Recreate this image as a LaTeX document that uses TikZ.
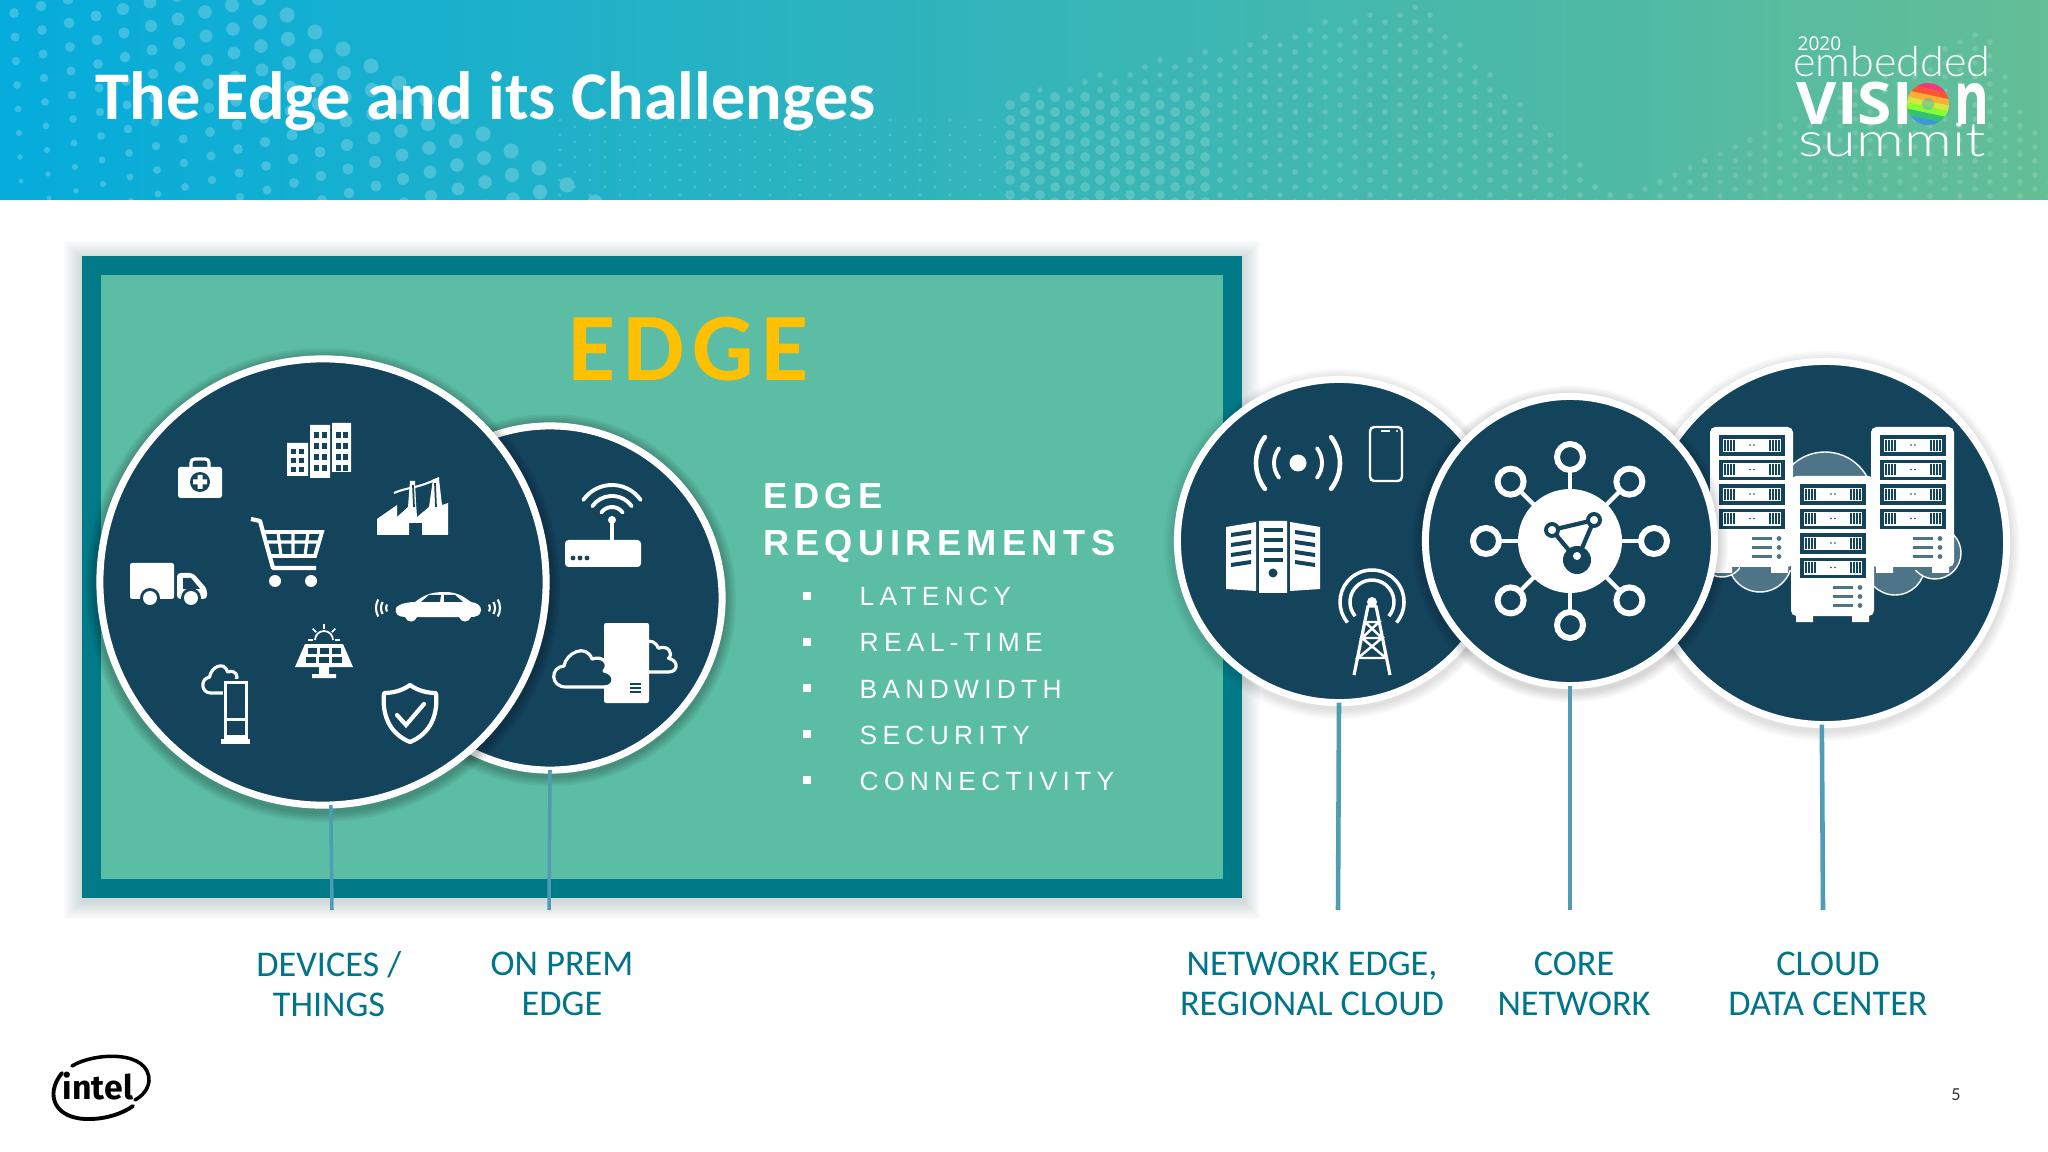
\documentclass[tikz,border=0pt]{standalone}
\usepackage{fontspec}
\usepackage{xcolor}
\usepackage{tikz}
\usetikzlibrary{arrows.meta,positioning,shapes.geometric,calc}
\setmainfont{Carlito}
\newfontfamily\spacedfont[LetterSpace=20]{Liberation Sans}
\newfontfamily\spacedhead[LetterSpace=15]{Liberation Sans}
\newfontfamily\amberfont[LetterSpace=8,BoldFont={Carlito Bold}]{Carlito}
\newfontfamily\logofont{Open Sans}
\newfontfamily\intelfont{Fira Sans}
\newfontfamily\summitthin{Lato Light}
\definecolor{hubdark}{RGB}{20,67,92}
\definecolor{boxgreen}{RGB}{92,189,165}
\definecolor{boxteal}{RGB}{0,122,135}
\definecolor{labelteal}{RGB}{0,117,138}
\definecolor{stemblue}{RGB}{78,157,181}
\definecolor{edgeamber}{RGB}{255,192,0}
\definecolor{cloudslate}{RGB}{78,116,136}
\definecolor{headleft}{RGB}{5,172,220}
\definecolor{headmid}{RGB}{33,183,196}
\definecolor{headright}{RGB}{100,190,150}
\tikzset{
  hub/.style={circle,draw=white,fill=hubdark,line width=2pt,inner sep=0pt,outer sep=0pt},
  stem/.style={stemblue,line width=1.3pt},
  tier/.style={labelteal,align=center,font=\fontsize{10.3}{11.4}\selectfont},
  reqhead/.style={white,anchor=base west,inner sep=0pt,font=\fontsize{10.3}{12}\spacedhead\bfseries},
  reqitem/.style={white,anchor=base west,inner sep=0pt,font=\fontsize{7.5}{9}\spacedfont},
  reqmark/.style={fill=white,inner sep=0pt,minimum size=0.08cm},
  thinline/.style={white,line width=0.9pt},
  medkit/.pic={
    \fill[white,rounded corners=0.5pt] (0,10) rectangle (44,41);
    \draw[thinline,rounded corners=1pt] (13,10) -- (13,2) -- (31,2) -- (31,10);
    \fill[hubdark] (22,25) circle[radius=10];
    \fill[white] (19.5,18) rectangle (24.5,32) (15,22.5) rectangle (29,27.5);
  },
  towers/.pic={
    \fill[white] (0,23) rectangle (21,56) (23,5) rectangle (43,58) (45,3) rectangle (64,52);
    \foreach \c in {4,12} \foreach \r in {29,38,47} \fill[hubdark] (\c,\r) rectangle ++(5,5);
    \foreach \c in {27,35,49,56} \foreach \r in {12,23,34,45} \fill[hubdark] (\c,\r) rectangle ++(5,6);
  },
  factory/.pic={
    \fill[white] (0,58) -- (0,42) -- (20,28) -- (20,40) -- (31,30) -- (33,4) -- (38,4) -- (39,26) -- (40,40) -- (52,30) -- (56,2) -- (62,2) -- (65,28) -- (71,26) -- (71,58) -- (45,58) -- (45,46) -- (32,46) -- (32,58) -- cycle;
    \draw[thinline,line width=0.6pt] (17,16) .. controls (30,10) and (40,12) .. (62,1);
    \draw[hubdark,line width=0.5pt] (37,30) -- (36,8) (59,30) -- (58,6);
  },
  cart/.pic={
    \draw[white,line width=1.2pt,line join=round] (0,1) -- (9,3) -- (22,50) -- (65,50);
    \draw[white,line width=1.1pt] (12,14) -- (71,14) -- (64,38) -- (18,38);
    \draw[white,line width=0.9pt] (17,24) -- (67,24) (27,14) -- (30,38) (42,14) -- (42,38) (57,14) -- (54,38);
    \fill[white] (24,63) circle[radius=6] (60,63) circle[radius=6];
  },
  truck/.pic={
    \fill[white,rounded corners=0.6pt] (0,0) rectangle (44,36);
    \fill[white,rounded corners=1pt] (47,10) -- (63,10) -- (77,26) -- (77,36) -- (47,36) -- cycle;
    \fill[hubdark] (53,15) -- (61,15) -- (70,26) -- (53,26) -- cycle;
    \foreach \w in {20,61} {
      \fill[hubdark] (\w,35) circle[radius=10];
      \fill[white] (\w,35) circle[radius=7];
    }
  },
  car/.pic={
    \fill[white] (21,16) .. controls (24,11) and (36,10) .. (40,10) .. controls (50,2) and (58,0) .. (70,0) .. controls (84,0) and (90,6) .. (96,10) .. controls (103,11) and (106,14) .. (106,18) .. controls (106,24) and (100,25) .. (96,25) .. controls (94,31) and (86,31) .. (84,25) -- (42,25) .. controls (40,31) and (32,31) .. (30,25) .. controls (24,25) and (19,22) .. (21,16) -- cycle;
    \fill[hubdark] (46,10) -- (54,3) -- (66,3) -- (65,10) -- cycle (69,3) -- (80,3) -- (88,10) -- (69,10) -- cycle;
    \foreach \w in {7,12,17} \draw[white,line width=0.6pt] ([shift={(150:\w)}]18,16) arc[start angle=150,end angle=210,radius=\w];
    \foreach \w in {7,12,17} \draw[white,line width=0.6pt] ([shift={(-30:\w)}]108,16) arc[start angle=-30,end angle=30,radius=\w];
  },
  solar/.pic={
    \fill[white] (10,22) -- (48,22) -- (58,45) -- (0,45) -- cycle (24,45) rectangle (34,52) (17,52) rectangle (41,56);
    \foreach \c in {0,1,2} {
      \fill[hubdark] (13+\c*12,26) rectangle ++(9,6);
      \fill[hubdark] (11+\c*13,35) rectangle ++(10,6);
    }
    \draw[thinline,line width=0.5pt] ([shift={(180:9)}]29,18) arc[start angle=180,end angle=360,radius=9];
    \foreach \a in {180,225,270,315,360} \draw[thinline,line width=0.5pt] ([shift={(\a:11)}]29,18) -- ([shift={(\a:16)}]29,18);
  },
  cloudline/.pic={
    \draw[white,fill=hubdark,line width=0.9pt,line join=round] (12,40) .. controls (-4,40) and (-4,20) .. (10,19) .. controls (12,6) and (32,-4) .. (38,12) .. controls (50,8) and (56,18) .. (50,24) .. controls (62,26) and (62,40) .. (50,40) -- cycle;
  },
  kiosk/.pic={
    \pic[xscale=0.65,yscale=0.75] at (0,0) {cloudline};
    \fill[hubdark] (20,16) rectangle (46,78);
    \fill[white] (21,18) rectangle (45,76);
    \fill[hubdark] (24,21) rectangle (42,55);
    \fill[hubdark] (24,58) rectangle (42,72);
    \fill[white] (18,76) rectangle (47,81);
  },
  shield/.pic={
    \draw[white,line width=1.2pt,line join=round] (28,2) .. controls (36,8) and (46,10) .. (54,10) .. controls (56,30) and (50,50) .. (28,59) .. controls (6,50) and (0,30) .. (2,10) .. controls (10,10) and (20,8) .. (28,2) -- cycle;
    \draw[white,line width=1.2pt,line cap=round] (15,32) -- (24,42) -- (42,21);
  },
  router/.pic={
    \fill[white,rounded corners=1pt] (0,56) rectangle (76,83);
    \foreach \d in {8,15,22} \fill[hubdark] (\d,74) circle[radius=2.4];
    \draw[white,line width=1.1pt] (47,56) -- (47,36);
    \fill[white] (47,36) circle[radius=4];
    \foreach \w in {13,24,35} \draw[white,line width=1.1pt,line cap=round] ([shift={(-35:\w)}]47,36) arc[start angle=-35,end angle=-145,radius=\w];
  },
  cloudserver/.pic={
    \pic[xscale=0.85,yscale=0.85] at (72,15) {cloudline};
    \fill[white,rounded corners=0.6pt] (50,0) rectangle (95,80);
    \pic at (0,24) {cloudline};
    \foreach \r in {60,64,68} \fill[hubdark] (76,\r) rectangle ++(11,2);
  },
  beacon/.pic={
    \fill[white] (44,28) circle[radius=8.5];
    \foreach \w/\t in {24/1.1,42/1.3} {
      \draw[white,line width=\t pt,line cap=round] ([shift={(-38:\w)}]44,28) arc[start angle=-38,end angle=38,radius=\w];
      \draw[white,line width=\t pt,line cap=round] ([shift={(142:\w)}]44,28) arc[start angle=142,end angle=218,radius=\w];
    }
  },
  handset/.pic={
    \draw[white,line width=0.7pt,rounded corners=1.2pt] (0,0) rectangle (32,54);
    \draw[white,line width=0.5pt] (11,4) -- (20,4);
    \fill[white] (27,4) circle[radius=1.2];
  },
  towers2/.pic={
    \fill[white] (0,6) -- (30,1) -- (30,70) -- (0,68) -- cycle (33,0) rectangle (61,72) (64,1) -- (94,6) -- (94,68) -- (64,70) -- cycle;
    \foreach \k in {0,1,2,3} {
      \fill[hubdark] (5,12+\k*10) -- (25,9+\k*10) -- (25,13+\k*10) -- (5,16+\k*10) -- cycle;
      \fill[hubdark] (38,7+\k*10) rectangle ++(19,4);
      \fill[hubdark] (69,9+\k*10) -- (89,12+\k*10) -- (89,16+\k*10) -- (69,13+\k*10) -- cycle;
    }
    \fill[hubdark] (47,52) circle[radius=4.5];
  },
  mast/.pic={
    \foreach \w in {22,32} \draw[white,line width=1pt] ([shift={(40:\w)}]34,32) arc[start angle=40,end angle=-220,radius=\w];
    \fill[white] (34,32) circle[radius=5];
    \draw[white,line width=0.9pt,line join=round] (16,105) -- (30,36) -- (38,36) -- (52,105);
    \draw[white,line width=0.7pt] (27,52) -- (41,52) -- (24,68) -- (44,68) -- (20,88) -- (48,88) (27,52) -- (44,68) -- (44,68) (24,68) -- (48,88);
  },
  rack/.pic={
    \fill[white,rounded corners=1.5pt] (0,0) rectangle (83,140);
    \fill[white] (5,140) rectangle (22,146) (61,140) rectangle (78,146);
    \foreach \k in {0,1,2,3} {
      \draw[hubdark,line width=1pt,fill=white] (11,10+\k*24.5) rectangle ++(62,17);
      \foreach \t in {15,18,21,24,60,63,66,69} \draw[hubdark,line width=0.3pt] (\t,13+\k*24.5) -- ++(0,11);
      \fill[hubdark] (40,18+\k*24.5) circle[radius=0.8] (44,18+\k*24.5) circle[radius=0.8];
    }
    \foreach \k in {0,1,2} {
      \fill[cloudslate] (42,110+\k*9) rectangle ++(20,3.5);
      \fill[cloudslate] (69,111.5+\k*9) circle[radius=2.4];
    }
  },
}
\begin{document}
\begin{tikzpicture}[x=0.01cm,y=-0.01cm]
  \useasboundingbox (0,0) rectangle (2048,1152);
  \fill[white] (0,0) rectangle (2048,1152);
  \begin{scope}
    \clip (0,0) rectangle (2048,200);
    \shade[left color=headleft,middle color=headmid,right color=headright] (0,0) rectangle (2048,200);
    \begin{scope}[opacity=0.22]
      \foreach \r in {-9,...,11} {
        \foreach \c in {0,...,15} {
          \pgfmathsetmacro{\dr}{2+5.5*(1-\c/15)}
          \fill[white] (287+\r*28-\c*27,15+\r*17+\c*7) circle[radius=\dr];
        }
      }
    \end{scope}
    \begin{scope}[opacity=0.17]
      \foreach \i in {0,...,70} {
        \foreach \j in {0,...,13} {
          \pgfmathsetmacro{\px}{560+\i*15}
          \pgfmathsetmacro{\py}{\j*15+7*mod(\i,2)}
          \pgfmathtruncatemacro{\keep}{\py>(\px<1000?115:(\px<1423?95-(\px-1000)*0.225:(\px-1423)))?1:0}
          \pgfmathsetmacro{\dr}{(\px>1000&&\px<1210&&\py>95)?5:(\px>1000?2.8:1.6)}
          \ifnum\keep=1
            \fill[white] (\px,\py) circle[radius=\dr];
          \fi
        }
      }
    \end{scope}
    \begin{scope}[opacity=0.14]
      \foreach \i in {0,...,30} {
        \foreach \j in {0,...,14} {
          \pgfmathsetmacro{\px}{1600+\i*15}
          \pgfmathsetmacro{\py}{\j*14+7*mod(\i,2)}
          \pgfmathtruncatemacro{\keep}{\py>(\px<1980?200-(\px-1600)*0.47:20+(\px-1980)*2)?1:0}
          \ifnum\keep=1
            \fill[white] (\px,\py) circle[radius=2.8];
          \fi
        }
      }
    \end{scope}
  \end{scope}
  \node[anchor=base west,inner sep=0pt,white,font=\fontsize{19.4}{22}\selectfont\bfseries] (title) at (95,120) {The Edge and its Challenges};

  \foreach \g in {18,16,...,2} {
    \fill[black!60!boxteal,opacity=0.018] (82-\g,256-\g+3) rectangle (1242+\g,898+\g+3);
  }
  \draw[boxteal,fill=boxgreen,line width=5.4pt] (91.5,265.5) rectangle (1232.5,888.5);
  \node[anchor=base,inner sep=0pt,edgeamber,font=\fontsize{27.5}{30}\amberfont\bfseries] (edgetitle) at (689,381) {EDGE};

  \node[reqhead] (reqa) at (763,509) {EDGE};
  \node[reqhead] (reqb) at (763,555) {REQUIREMENTS};
  \foreach \t [count=\n] in {LATENCY,REAL-TIME,BANDWIDTH,SECURITY,CONNECTIVITY} {
    \node[reqmark] (mark\n) at (807,550+\n*46) {};
    \node[reqitem] (item\n) at (859,560+\n*46) {\t};
  }

  \foreach \g in {10,8,...,2} \fill[black,opacity=0.05] (550,600) circle[radius=176+\g];
  \node[hub,minimum size=3.44cm] (onprem) at (550,598) {};
  \pic at (565,484) {router};
  \pic at (554,623) {cloudserver};

  \foreach \g in {10,8,...,2} \fill[black,opacity=0.05] (323,585) circle[radius=227+\g];
  \node[hub,minimum size=4.46cm] (devices) at (323,582) {};
  \pic at (178,457) {medkit};
  \pic at (287,420) {towers};
  \pic at (377,477) {factory};
  \pic at (251,518) {cart};
  \pic at (130,563) {truck};
  \pic at (375,592) {car};
  \pic at (295,622) {solar};
  \pic at (203,663) {kiosk};
  \pic at (382,683) {shield};

  \foreach \g in {10,8,...,2} \fill[black,opacity=0.025] (1825,546) circle[radius=185+\g];
  \node[hub,minimum size=3.63cm] (cloud) at (1825,543) {};
  \foreach \a/\b/\w in {1825/500/48,1760/560/32,1895/565/30,1935/553/26,1722/555/22} {
    \draw[white,line width=0.4pt,fill=cloudslate] (\a,\b) circle[radius=\w];
  }
  \fill[cloudslate] (1740,520) rectangle (1930,570);
  \pic at (1710,427) {rack};
  \pic at (1871,427) {rack};
  \pic at (1791,476) {rack};

  \foreach \g in {10,8,...,2} \fill[black,opacity=0.025] (1339,544) circle[radius=165+\g];
  \node[hub,minimum size=3.23cm] (network) at (1339,541) {};
  \pic at (1254,435) {beacon};
  \pic at (1370,427) {handset};
  \pic at (1226,521) {towers2};
  \pic at (1338,570) {mast};

  \foreach \g in {10,8,...,2} \fill[black,opacity=0.03] (1570,544) circle[radius=148+\g];
  \node[hub,minimum size=2.89cm] (core) at (1570,541) {};
  \foreach \a in {0,45,...,315} {
    \draw[white,line width=1.2pt] (core.center) -- ([shift={(\a:76)}]core.center);
    \draw[white,line width=1.7pt,fill=hubdark] ([shift={(\a:84)}]core.center) circle[radius=13];
  }
  \fill[white] (core.center) circle[radius=52];
  \draw[hubdark,line width=1.2pt] (1552,530) -- (1594,520) -- (1577,560) -- cycle;
  \fill[white] (1552,530) circle[radius=6] (1594,520) circle[radius=6];
  \draw[hubdark,line width=1.1pt] (1552,530) circle[radius=6] (1594,520) circle[radius=6];
  \fill[hubdark] (1577,560) circle[radius=14];
  \fill[white] (1577,556) circle[radius=4];

  \coordinate (devicesend) at (332,910);
  \coordinate (onpremend) at (549,910);
  \coordinate (networkend) at (1338,910);
  \coordinate (coreend) at (1570,910);
  \coordinate (cloudend) at (1823,910);
  \draw[stem,line width=1pt] (devices.-88) -- (devicesend);
  \draw[stem,line width=1pt] (onprem.south) -- (onpremend);
  \draw[stem] (network.south) -- (networkend);
  \draw[stem] (core.south) -- (coreend);
  \draw[stem] (cloud.-91) -- (cloudend);

  \node[tier] (devicesname) at (329,984) {DEVICES /\\THINGS};
  \node[tier] (onpremname) at (562,984) {ON PREM\\EDGE};
  \node[tier] (networkname) at (1312,984) {NETWORK EDGE,\\REGIONAL CLOUD};
  \node[tier] (corename) at (1574,984) {CORE\\NETWORK};
  \node[tier] (cloudname) at (1828,984) {CLOUD\\DATA CENTER};

  \node[anchor=base west,inner sep=0pt,white,font=\fontsize{5.4}{6}\logofont] (yearmark) at (1797,51) {2020};
  \node[anchor=base,inner sep=0pt,white,font=\fontsize{11.8}{12}\summitthin] (summita) at (1892,77) {\scalebox{1.04}[1]{embedded}};
  \node[anchor=base west,inner sep=0pt,white,font=\fontsize{16.7}{17}\logofont\bfseries] (summitb) at (1796,125) {\scalebox{1.06}[1]{VISI}};
  \node[anchor=base east,inner sep=0pt,white,font=\fontsize{21}{21}\logofont\bfseries] (summitc) at (1990,125) {\scalebox{0.72}[1]{n}};
  \node[anchor=base,inner sep=0pt,white,font=\fontsize{13.4}{14}\summitthin] (summitd) at (1892,157) {\scalebox{1.26}[1]{summit}};
  \begin{scope}
    \clip (1928,104) circle[radius=21];
    \foreach \k/\col in {0/magenta!60!red,1/red!70!orange,2/orange!80!yellow,3/yellow!80!green,4/green!60!yellow,5/teal!60!green,6/cyan!70!blue,7/magenta!70!blue} {
      \fill[\col!80!white,rotate around={-12:(1928,104)}] (1900,83+\k*6) rectangle (1956,89+\k*6);
    }
    \fill[boxgreen,opacity=0.6] (1928,104) circle[radius=6];
  \end{scope}

  \node[inner sep=0pt,black,font=\fontsize{9.6}{10}\intelfont\bfseries] (intelmark) at (98,1086) {intel};
  \draw[black,line width=1pt,line cap=round] (72,1066) .. controls (95,1052) and (150,1050) .. (149,1081) .. controls (148,1090) and (142,1096) .. (135,1100);
  \draw[black,line width=1.1pt,line cap=round] (62,1073) .. controls (44,1095) and (55,1120) .. (90,1119) .. controls (105,1119) and (122,1114) .. (133,1106);
  \node[inner sep=0pt,black!80,font=\fontsize{5.2}{6}\selectfont] (pagenum) at (1956,1095) {5};
\end{tikzpicture}
\end{document}
